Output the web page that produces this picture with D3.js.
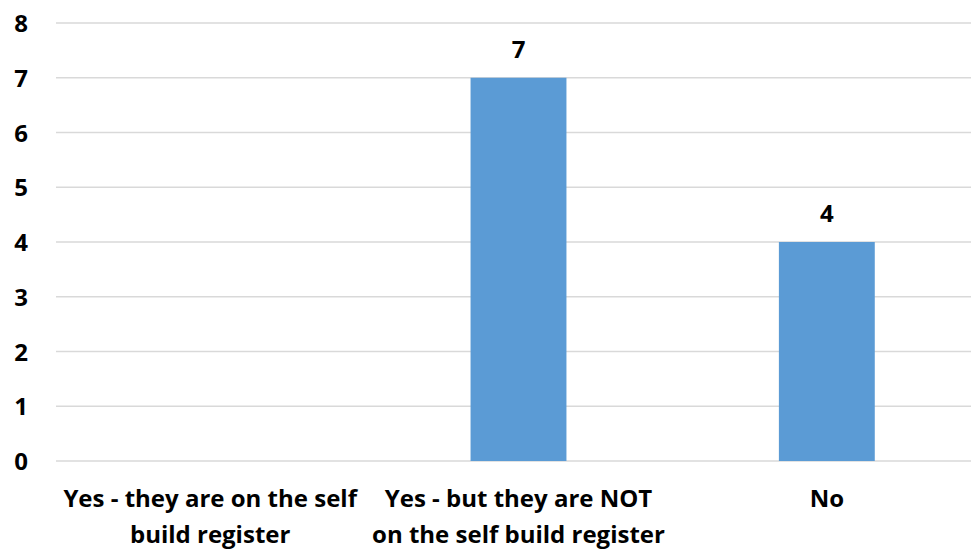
<!DOCTYPE html>
<html>
<head>
<meta charset="utf-8">
<script src="https://cdn.jsdelivr.net/npm/d3@7"></script>
<style>
  html, body { margin: 0; padding: 0; background: #fff; }
  svg { display: block; }
  text { font-family: "Open Sans", Lato, sans-serif; font-weight: bold; fill: #000; }
</style>
</head>
<body>
<svg id="chart" width="971" height="549"></svg>
<script>
// Answers and counts; "\n" marks where a category label wraps
const categories = [
  "Yes - they are on the self\nbuild register",
  "Yes - but they are NOT\non the self build register",
  "No"
];
const counts = [0, 7, 4];
const yTicks = [0, 1, 2, 3, 4, 5, 6, 7, 8];

const svg = d3.select("#chart");
const W = 971, H = 549;
const plotLeft = 56, plotRight = 981, plotTop = 23, plotBottom = 461;
const fontSize = 24;

const x = d3.scaleBand()
  .domain(categories)
  .range([plotLeft, plotRight])
  .paddingInner(0.689)
  .paddingOuter(0.3445);

const y = d3.scaleLinear().domain([0, 8]).range([plotBottom, plotTop]);

// Horizontal gridlines
svg.append("g")
  .selectAll("line")
  .data(yTicks)
  .join("line")
  .attr("x1", plotLeft)
  .attr("x2", W)
  .attr("y1", d => y(d))
  .attr("y2", d => y(d))
  .attr("stroke", "#d9d9d9")
  .attr("stroke-width", 1.5);

// Y axis tick labels
const yAxis = d3.axisLeft(y).tickValues(yTicks).tickSize(0).tickPadding(0).tickFormat(d3.format("d"));
const gy = svg.append("g")
  .attr("transform", `translate(${plotLeft - 28},0)`)
  .call(yAxis);
gy.select(".domain").remove();
gy.selectAll("text")
  .attr("font-size", fontSize)
  .attr("font-family", "'Open Sans', sans-serif")
  .attr("font-weight", "bold")
  .attr("fill", "#000")
  .attr("dy", "0.36em");

// Bars
const data = categories.map((c, i) => ({ c, v: counts[i] }));
svg.append("g")
  .selectAll("rect")
  .data(data.filter(d => d.v > 0))
  .join("rect")
  .attr("x", d => x(d.c))
  .attr("width", x.bandwidth())
  .attr("y", d => y(d.v))
  .attr("height", d => y(0) - y(d.v))
  .attr("fill", "#5b9bd5");

// Value labels above bars
svg.append("g")
  .selectAll("text")
  .data(data.filter(d => d.v > 0))
  .join("text")
  .attr("x", d => x(d.c) + x.bandwidth() / 2)
  .attr("y", d => y(d.v) - 20)
  .attr("text-anchor", "middle")
  .attr("font-size", fontSize)
  .text(d => d.v);

// Category labels, wrapped onto lines
const cat = svg.append("g")
  .selectAll("text")
  .data(categories)
  .join("text")
  .attr("x", d => x(d) + x.bandwidth() / 2)
  .attr("y", 507)
  .attr("text-anchor", "middle")
  .attr("font-size", fontSize);
cat.each(function(d) {
  const t = d3.select(this);
  d.split("\n").forEach((line, i) => {
    t.append("tspan")
      .attr("x", x(d) + x.bandwidth() / 2)
      .attr("dy", i === 0 ? 0 : 36)
      .text(line);
  });
});
</script>
</body>
</html>
